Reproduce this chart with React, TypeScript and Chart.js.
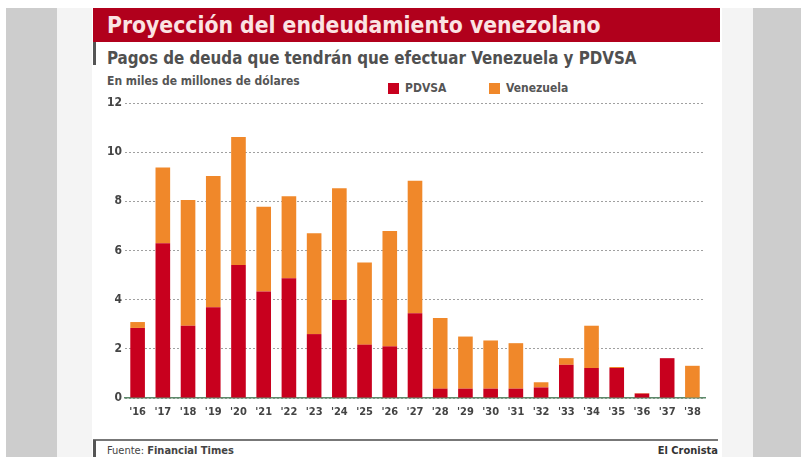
import React, { useEffect, useRef } from "react";
import { Chart, registerables } from "chart.js";

Chart.register(...registerables);

const years = ["'16", "'17", "'18", "'19", "'20", "'21", "'22", "'23", "'24", "'25", "'26", "'27", "'28", "'29", "'30", "'31", "'32", "'33", "'34", "'35", "'36", "'37", "'38"];
const pdvsa = [2.85, 6.29, 2.94, 3.69, 5.41, 4.33, 4.87, 2.6, 3.99, 2.17, 2.1, 3.45, 0.38, 0.38, 0.38, 0.38, 0.43, 1.35, 1.22, 1.22, 0.18, 1.62, 0];
const venezuela = [0.24, 3.09, 5.11, 5.34, 5.21, 3.45, 3.34, 4.1, 4.54, 3.34, 4.69, 5.39, 2.87, 2.12, 1.96, 1.85, 0.21, 0.27, 1.72, 0.04, 0.02, 0, 1.31];
const yTicks = [0, 2, 4, 6, 8, 10, 12];

const RED = "#c8001e";
const ORANGE = "#f0882a";
const FONT = "'DejaVu Sans Condensed', 'DejaVu Sans', sans-serif";

export default function App() {
  const ref = useRef<HTMLCanvasElement>(null);

  useEffect(() => {
    document.body.style.margin = "0";
    const chart = new Chart(ref.current!, {
      type: "bar",
      data: {
        labels: years,
        datasets: [
          { label: "PDVSA", data: pdvsa, backgroundColor: RED, stack: "s" },
          { label: "Venezuela", data: venezuela, backgroundColor: ORANGE, stack: "s" },
        ],
      },
      options: {
        animation: false,
        responsive: false,
        maintainAspectRatio: false,
        layout: { padding: { top: 13, right: 10, left: 0, bottom: 0 } },
        plugins: { legend: { display: false }, tooltip: { enabled: false } },
        datasets: { bar: { categoryPercentage: 1, barPercentage: 0.58 } },
        scales: {
          x: {
            stacked: true,
            grid: { display: false, drawTicks: false },
            border: { display: true, color: "#5d8a6a", width: 1.5 },
            ticks: { color: "#444", font: { family: FONT, size: 11, weight: "bold" }, padding: 8, maxRotation: 0, autoSkip: false },
            afterFit: (s: any) => { s.height = 27; },
          },
          y: {
            stacked: true,
            min: 0,
            max: 12,
            afterBuildTicks: (s: any) => { s.ticks = yTicks.map((v) => ({ value: v })); },
            grid: { color: "#a0a0a0", lineWidth: 1, drawTicks: false },
            border: { display: false, dash: [2, 2] },
            ticks: { color: "#444", font: { family: FONT, size: 12, weight: "bold" }, padding: 3 },
            afterFit: (s: any) => { s.width = 30; },
          },
        },
      },
    });
    return () => chart.destroy();
  }, []);

  const abs = (l: number, t: number, w: number, h: number, bg: string): React.CSSProperties => ({
    position: "absolute", left: l, top: t, width: w, height: h, background: bg,
  });

  return (
    <div style={{ position: "absolute", left: 0, top: 0, width: 801, height: 457, background: "#fff", overflow: "hidden", fontFamily: FONT }}>
      <div style={abs(6, 8, 51, 449, "#cdcdcd")} />
      <div style={abs(57, 8, 35, 449, "#f4f4f4")} />
      <div style={abs(722, 8, 31, 449, "#f4f4f4")} />
      <div style={abs(753, 8, 48, 449, "#cdcdcd")} />
      <div style={abs(93, 8, 627, 34, "#b1001c")} />
      <div style={{ position: "absolute", left: 107, top: 8, height: 34, lineHeight: "34px", color: "#fbe3e3", fontSize: 22.7, fontWeight: "bold", whiteSpace: "nowrap" }}>
        Proyección del endeudamiento venezolano
      </div>
      <div style={abs(93, 42, 3, 23, "#555")} />
      <div style={{ position: "absolute", left: 107, top: 47, lineHeight: "22px", color: "#505050", fontSize: 16.8, fontWeight: "bold", whiteSpace: "nowrap" }}>
        Pagos de deuda que tendrán que efectuar Venezuela y PDVSA
      </div>
      <div style={{ position: "absolute", left: 107, top: 73, lineHeight: "16px", color: "#555", fontSize: 12, fontWeight: "bold", whiteSpace: "nowrap" }}>
        En miles de millones de dólares
      </div>
      <div style={abs(388, 83, 11, 11, RED)} />
      <div style={{ position: "absolute", left: 405, top: 80, lineHeight: "16px", color: "#555", fontSize: 12, fontWeight: "bold" }}>PDVSA</div>
      <div style={abs(489, 83, 11, 11, ORANGE)} />
      <div style={{ position: "absolute", left: 506, top: 80, lineHeight: "16px", color: "#555", fontSize: 12, fontWeight: "bold" }}>Venezuela</div>
      <canvas ref={ref} width={620} height={335} style={{ position: "absolute", left: 95, top: 90, width: 620, height: 335 }} />
      <div style={abs(93, 439, 625, 1.5, "#777")} />
      <div style={abs(93, 440, 3, 17, "#555")} />
      <div style={{ position: "absolute", left: 107, top: 443, lineHeight: "16px", color: "#444", fontSize: 11, whiteSpace: "nowrap" }}>
        Fuente: <b>Financial Times</b>
      </div>
      <div style={{ position: "absolute", right: 801 - 718, top: 443, lineHeight: "16px", color: "#333", fontSize: 11, fontWeight: "bold", whiteSpace: "nowrap" }}>
        El Cronista
      </div>
    </div>
  );
}
